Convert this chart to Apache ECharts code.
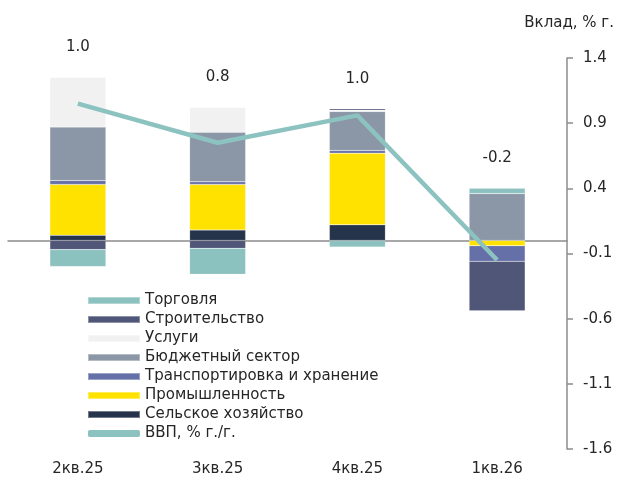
<!DOCTYPE html>
<html>
<head>
<meta charset="utf-8">
<script src="https://cdn.jsdelivr.net/npm/echarts@6/dist/echarts.min.js"></script>
<style>html,body{margin:0;padding:0;background:#fff}#c{width:624px;height:481px}</style>
</head>
<body>
<div id="c"></div>
<script>
var categories = ['2кв.25', '3кв.25', '4кв.25', '1кв.26'];
var agriculture = [0.04, 0.08, 0.12, 0.00];
var industry = [0.39, 0.35, 0.55, -0.04];
var transport = [0.03, 0.02, 0.02, -0.12];
var budget = [0.41, 0.38, 0.30, 0.36];
var services = [0.38, 0.19, 0.01, 0.00];
var construction = [-0.07, -0.06, 0.01, -0.38];
var trade = [-0.13, -0.20, -0.05, 0.04];
var gdp = [1.05, 0.75, 0.96, -0.15];
var totalLabels = ['1.0', '0.8', '1.0', '-0.2'];
var yTicks = [-1.6, 1.4, 0.5];

var FONT = 'DejaVu Sans';
var TXT = '#262626';

var barSeriesDefs = [
  {name: 'Сельское хозяйство', data: agriculture, color: '#26344B'},
  {name: 'Промышленность', data: industry, color: '#FFE200'},
  {name: 'Транспортировка и хранение', data: transport, color: '#6570A8'},
  {name: 'Бюджетный сектор', data: budget, color: '#8B97A6'},
  {name: 'Услуги', data: services, color: '#F1F1F1'},
  {name: 'Строительство', data: construction, color: '#4F5678'},
  {name: 'Торговля', data: trade, color: '#8BC1BF'}
];

var posTop = categories.map(function (c, i) {
  var s = 0;
  barSeriesDefs.forEach(function (d) { if (d.data[i] > 0) s += d.data[i]; });
  return [i, s];
});

var series = barSeriesDefs.map(function (d) {
  return {
    name: d.name, type: 'bar', stack: 'total', data: d.data,
    barWidth: 56, xAxisIndex: 0,
    itemStyle: {color: d.color, borderColor: 'rgba(255,255,255,0.35)', borderWidth: 0.5},
    emphasis: {disabled: true}
  };
});
series.push({
  name: 'ВВП, % г./г.', type: 'line', data: gdp, xAxisIndex: 0,
  symbol: 'none', lineStyle: {color: '#8CC3C0', width: 4.5}, itemStyle: {color: '#8CC3C0'}, z: 5
});
series.push({
  name: 'labels', type: 'scatter', data: posTop, symbolSize: 1, xAxisIndex: 0, silent: true,
  itemStyle: {color: 'rgba(0,0,0,0)', opacity: 1},
  label: {show: true, position: 'top', distance: 22, color: TXT, opacity: 1, fontSize: 15, fontFamily: FONT,
    formatter: function (p) { return totalLabels[p.dataIndex]; }}
});

var legendOrder = ['Торговля', 'Строительство', 'Услуги', 'Бюджетный сектор', 'Транспортировка и хранение', 'Промышленность', 'Сельское хозяйство'];
var legendData = legendOrder.map(function (n) { return {name: n, icon: 'rect'}; });
legendData.push({name: 'ВВП, % г./г.', icon: 'roundRect'});

var chart = echarts.init(document.getElementById('c'), null, {renderer: 'canvas'});
chart.setOption({
  animation: false,
  backgroundColor: '#fff',
  textStyle: {fontFamily: FONT},
  title: {text: 'Вклад, % г.', right: 5, top: 11, textStyle: {fontSize: 15, fontWeight: 'normal', color: TXT, fontFamily: FONT}},
  grid: {left: 8, right: 57, top: 58, bottom: 32, containLabel: false},
  legend: {
    orient: 'vertical', left: 82, top: 288, itemWidth: 52, itemHeight: 7, itemGap: 4,
    textStyle: {fontSize: 15, color: TXT, fontFamily: FONT, lineHeight: 15, padding: [0, 0, 0, 0]},
    data: legendData, selectedMode: false
  },
  xAxis: [{
    type: 'category', data: categories, position: 'bottom',
    axisLine: {show: false, onZero: false}, axisTick: {show: false},
    axisLabel: {margin: 13, fontSize: 15, color: TXT, fontFamily: FONT}
  }, {
    type: 'category', data: categories, position: 'bottom',
    axisLine: {show: true, onZero: true, lineStyle: {color: '#8C8C8C', width: 1.5}},
    axisTick: {show: false}, axisLabel: {show: false}
  }],
  yAxis: {
    type: 'value', position: 'right', min: yTicks[0], max: yTicks[1], interval: yTicks[2],
    axisLine: {show: true, lineStyle: {color: '#8C8C8C', width: 1.5}},
    axisTick: {show: true, length: 6, lineStyle: {color: '#8C8C8C', width: 1.5}},
    splitLine: {show: false},
    axisLabel: {margin: 16, fontSize: 15, color: TXT, fontFamily: FONT,
      formatter: function (v) { return (Math.round(v * 10) / 10).toFixed(1); }}
  },
  series: series
});
</script>
</body>
</html>
